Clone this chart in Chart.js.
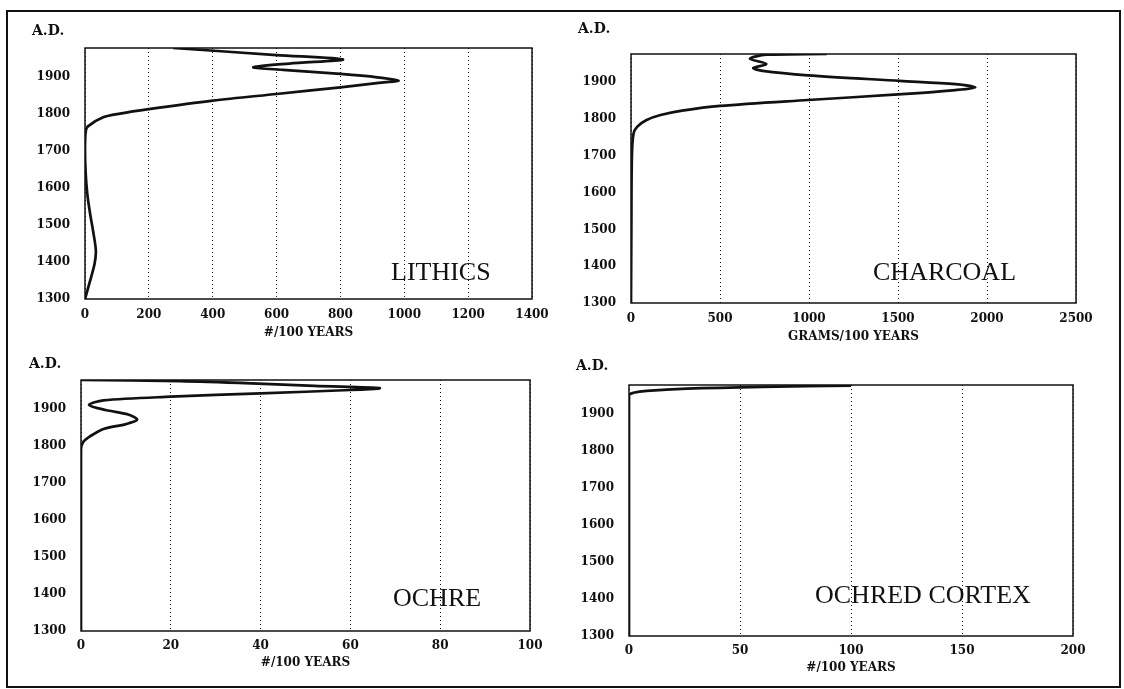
<!DOCTYPE html>
<html>
<head>
<meta charset="utf-8">
<title>Artifact density by century</title>
<script src="https://cdn.jsdelivr.net/npm/chart.js@4.4.0/dist/chart.umd.min.js"></script>
<style>
  html, body { margin: 0; padding: 0; background: #fff; }
  body { width: 1124px; height: 689px; position: relative; overflow: hidden; font-family: "DejaVu Serif", serif; color: #111; }
  .frame { position: absolute; left: 6px; top: 10px; width: 1111px; height: 674px; border: 2px solid #111; }
  canvas { position: absolute; }
  .ad { position: absolute; font-weight: bold; font-size: 14px; line-height: 1; }
  .tag { position: absolute; font-family: "Liberation Serif", serif; font-size: 26px; line-height: 1; white-space: nowrap; }
</style>
</head>
<body>
<div class="frame"></div>

<canvas id="lithicsChart" width="540" height="328" style="left:10px; top:12px;"></canvas>
<canvas id="charcoalChart" width="556" height="332" style="left:556px; top:12px;"></canvas>
<canvas id="ochreChart" width="544" height="322" style="left:6px; top:348px;"></canvas>
<canvas id="cortexChart" width="560" height="327" style="left:554px; top:348px;"></canvas>

<div class="ad" style="left:32px; top:23px;">A.D.</div>
<div class="ad" style="left:578px; top:21px;">A.D.</div>
<div class="ad" style="left:29px; top:356px;">A.D.</div>
<div class="ad" style="left:576px; top:358px;">A.D.</div>

<div class="tag" style="left:391px; top:259px;">LITHICS</div>
<div class="tag" style="left:873px; top:259px;">CHARCOAL</div>
<div class="tag" style="left:393px; top:585px;">OCHRE</div>
<div class="tag" style="left:815px; top:582px;">OCHRED CORTEX</div>

<script>
/* ==========================================
   ARTIFACT DENSITY PER CENTURY, 1300 - PRESENT
   ========================================== */

const INK = '#111';

// Shared year axis (A.D.)
const yearTicks = [1300, 1400, 1500, 1600, 1700, 1800, 1900];
const YEAR_MIN = 1300;
const YEAR_MAX = 1977;

// Lithics, #/100 years
const lithicsYears = [1300, 1340, 1395, 1430, 1475, 1530, 1585, 1640, 1700, 1750, 1765, 1790, 1800, 1812, 1835, 1853, 1871, 1883, 1889, 1898, 1907, 1918, 1925, 1935, 1946, 1958, 1977];
const lithicsCounts = [0, 13, 30, 34, 27, 16, 7, 2, 0, 2, 8, 57, 110, 200, 400, 600, 800, 920, 982, 915, 800, 620, 527, 640, 808, 600, 276];
const lithicsTicks = [0, 200, 400, 600, 800, 1000, 1200, 1400];

// Charcoal, grams/100 years
const charcoalYears = [1300, 1500, 1700, 1760, 1779, 1797, 1811, 1823, 1836, 1852, 1867, 1879, 1886, 1895, 1904, 1919, 1931, 1939, 1950, 1964, 1975, 1977];
const charcoalGrams = [0, 2, 5, 14, 34, 85, 166, 287, 500, 994, 1500, 1823, 1934, 1823, 1510, 994, 740, 687, 760, 668, 760, 1100];
const charcoalTicks = [0, 500, 1000, 1500, 2000, 2500];

// Ochre, #/100 years
const ochreYears = [1300, 1790, 1810, 1825, 1845, 1858, 1870, 1884, 1896, 1910, 1922, 1932, 1941, 1950, 1955, 1961, 1968, 1974, 1977];
const ochreCounts = [0, 0, 0.5, 2, 5, 10, 12.5, 10.5, 5.5, 1.8, 5, 20, 40, 60, 66.5, 52, 38, 22, 0];
const ochreTicks = [0, 20, 40, 60, 80, 100];

// Ochred cortex, #/100 years
const cortexYears = [1300, 1900, 1950, 1956, 1961, 1967, 1972, 1975];
const cortexCounts = [0, 0, 0, 2, 8, 26, 60, 100];
const cortexTicks = [0, 50, 100, 150, 200];

const tickFont = { family: 'DejaVu Serif', size: 12, weight: 'bold' };
const titleFont = { family: 'DejaVu Serif', size: 12, weight: 'bold' };

// Solid frame round the plotting area
const plotBox = {
  id: 'plotBox',
  afterDatasetsDraw(chart) {
    const a = chart.chartArea;
    const ctx = chart.ctx;
    ctx.save();
    ctx.strokeStyle = INK;
    ctx.lineWidth = 1.5;
    ctx.strokeRect(a.left, a.top, a.right - a.left, a.bottom - a.top);
    ctx.restore();
  }
};

function makePanel(id, years, values, xTicks, xTitle, box) {
  const points = years.map((y, i) => ({ x: values[i], y: y }));

  return new Chart(document.getElementById(id), {
    type: 'scatter',
    data: {
      datasets: [{
        data: points,
        showLine: true,
        borderColor: INK,
        borderWidth: 2.7,
        pointRadius: 0,
        tension: 0.3,
        fill: false
      }]
    },
    options: {
      responsive: false,
      animation: false,
      devicePixelRatio: 1,
      layout: { padding: { top: box.top, right: box.right, left: 0, bottom: 0 } },
      plugins: {
        legend: { display: false },
        tooltip: { enabled: false }
      },
      scales: {
        x: {
          type: 'linear',
          min: xTicks[0],
          max: xTicks[xTicks.length - 1],
          afterBuildTicks: s => { s.ticks = xTicks.map(v => ({ value: v })); },
          afterFit: s => { s.height = box.xh; s.paddingLeft = 0; s.paddingRight = 0; },
          grid: { color: INK, lineWidth: 1, drawTicks: false },
          border: { display: false, dash: [1, 3] },
          ticks: {
            padding: box.xpad,
            color: INK,
            font: tickFont,
            maxRotation: 0,
            autoSkip: false,
            callback: v => String(v)
          },
          title: { display: true, text: xTitle, color: INK, font: titleFont, padding: 0 }
        },
        y: {
          type: 'linear',
          min: YEAR_MIN,
          max: YEAR_MAX,
          afterBuildTicks: s => { s.ticks = yearTicks.map(v => ({ value: v })); },
          afterFit: s => { s.width = 75; s.paddingTop = 0; s.paddingBottom = 0; },
          grid: { display: false, drawTicks: false },
          border: { display: false },
          ticks: {
            padding: 15,
            color: INK,
            font: tickFont,
            autoSkip: false,
            callback: v => String(v)
          }
        }
      }
    },
    plugins: [plotBox]
  });
}

function initPanels() {
  makePanel('lithicsChart', lithicsYears, lithicsCounts, lithicsTicks, '#/100 YEARS',
    { top: 36, right: 18, xh: 41, xpad: 9 });
  makePanel('charcoalChart', charcoalYears, charcoalGrams, charcoalTicks, 'GRAMS/100 YEARS',
    { top: 42, right: 36, xh: 41, xpad: 9 });
  makePanel('ochreChart', ochreYears, ochreCounts, ochreTicks, '#/100 YEARS',
    { top: 32, right: 20, xh: 39, xpad: 8 });
  makePanel('cortexChart', cortexYears, cortexCounts, cortexTicks, '#/100 YEARS',
    { top: 37, right: 41, xh: 39, xpad: 8 });
}

document.addEventListener('DOMContentLoaded', initPanels);
</script>
</body>
</html>
